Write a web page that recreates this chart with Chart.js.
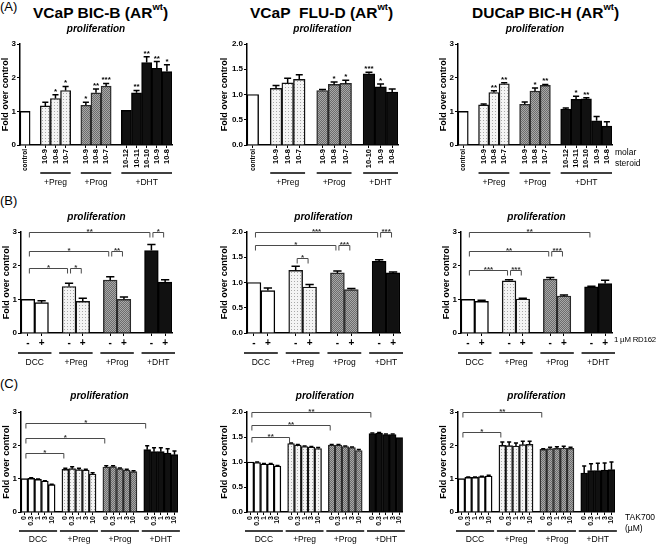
<!DOCTYPE html>
<html>
<head>
<meta charset="utf-8">
<script src="https://cdn.jsdelivr.net/npm/chart.js@4.4.1/dist/chart.umd.min.js"></script>
<style>
  body { margin: 0; background: #fff; font-family: "Liberation Sans", Arial, sans-serif; }
  #wrap { position: relative; width: 660px; height: 544px; overflow: hidden; }
  #wrap canvas { position: absolute; }
  .t { position: absolute; white-space: nowrap; color: #000; }
  .lab { font-size: 13px; line-height: 13px; }
  .ttl { font-size: 15.5px; font-weight: bold; line-height: 18px; }
  .ttl sup { font-size: 9.5px; position: relative; top: -2px; line-height: 0; }
  .pro { font-size: 10px; font-weight: bold; font-style: italic; line-height: 10px; width: 120px; text-align: center; }
  .side { font-size: 8.5px; line-height: 10.5px; }
  .side.narrow { font-size: 7.8px; letter-spacing: -0.2px; }
</style>
</head>
<body>
<div id="wrap">
  <div class="t lab" style="left:0;top:0">(A)</div>
  <div class="t lab" style="left:0;top:194px">(B)</div>
  <div class="t lab" style="left:0;top:377px">(C)</div>
  <div class="t ttl" style="left:33px;top:4px">VCaP BIC-B (AR<sup>wt</sup>)</div>
  <div class="t ttl" style="left:250px;top:4px">VCaP&nbsp; FLU-D (AR<sup>wt</sup>)</div>
  <div class="t ttl" style="left:472px;top:4px">DUCaP BIC-H (AR<sup>wt</sup>)</div>
</div>

<script>
// ---- data ----
const groupsA = ['', '+Preg', '+Prog', '+DHT'];
const groupsBC = ['DCC', '+Preg', '+Prog', '+DHT'];

const ticksA1 = [['control'], ['10-9', '10-8', '10-7'], ['10-9', '10-8', '10-7'], ['10-12', '10-11', '10-10', '10-9', '10-8']];
const ticksA2 = [['control'], ['10-9', '10-8', '10-7'], ['10-9', '10-8', '10-7'], ['10-10', '10-9', '10-8']];
const ticksB = [['-', '+'], ['-', '+'], ['-', '+'], ['-', '+']];
const dosesC = ['0', '0.3', '1', '3', '10'];
const ticksC = [dosesC, dosesC, dosesC, dosesC];

// (A) molar steroid dose response
const valuesA1 = [[1.00], [1.16, 1.38, 1.62], [1.18, 1.55, 1.75], [1.03, 1.55, 2.45, 2.28, 2.18]];
const errorsA1 = [[0], [0.11, 0.11, 0.12], [0.09, 0.11, 0.08], [0, 0.07, 0.17, 0.2, 0.2]];
const starsA1 = [[''], ['', '*', '*'], ['*', '**', '***'], ['', '**', '**', '**', '*']];

const valuesA2 = [[1.00], [1.12, 1.23, 1.30], [1.08, 1.20, 1.22], [1.41, 1.15, 1.05]];
const errorsA2 = [[0], [0.06, 0.09, 0.09], [0.02, 0.05, 0.06], [0.03, 0.06, 0.06]];
const starsA2 = [[''], ['', '', ''], ['', '*', '*'], ['***', '*', '']];

const valuesA3 = [[1.00], [1.19, 1.56, 1.82], [1.21, 1.60, 1.77], [1.07, 1.36, 1.37, 0.72, 0.56]];
const errorsA3 = [[0], [0.03, 0.05, 0.03], [0.07, 0.09, 0.03], [0.03, 0.09, 0.03, 0.13, 0.13]];
const starsA3 = [[''], ['', '**', '**'], ['', '*', '**'], ['', '*', '**', '', '']];

// (B) +/- 1 uM RD162
const valuesB1 = [[1.00, 0.90], [1.38, 0.94], [1.57, 1.00], [2.45, 1.51]];
const errorsB1 = [[0, 0.06], [0.1, 0.09], [0.1, 0.07], [0.18, 0.07]];
const bracketsB1 = [
  { from: [0, 0], to: [3, 0], y: 3.0, text: '**' },
  { from: [3, 0], to: [3, 1], y: 3.0, text: '*' },
  { from: [0, 0], to: [2, 0], y: 2.45, text: '*' },
  { from: [2, 0], to: [2, 1], y: 2.45, text: '**' },
  { from: [0, 0], to: [1, 0], y: 1.92, text: '*' },
  { from: [1, 0], to: [1, 1], y: 1.92, text: '*' }
];

const valuesB2 = [[1.00, 0.84], [1.24, 0.91], [1.19, 0.86], [1.42, 1.19]];
const errorsB2 = [[0, 0.05], [0.08, 0.05], [0.04, 0.02], [0.03, 0.02]];
const bracketsB2 = [
  { from: [0, 0], to: [3, 0], y: 2.0, text: '***' },
  { from: [3, 0], to: [3, 1], y: 2.0, text: '***' },
  { from: [0, 0], to: [2, 0], y: 1.75, text: '*' },
  { from: [2, 0], to: [2, 1], y: 1.75, text: '***' },
  { from: [1, 0], to: [1, 1], y: 1.49, text: '*' }
];

const valuesB3 = [[1.00, 0.94], [1.55, 1.01], [1.60, 1.10], [1.37, 1.47]];
const errorsB3 = [[0, 0.03], [0.03, 0.02], [0.05, 0.03], [0.02, 0.1]];
const bracketsB3 = [
  { from: [0, 0], to: [3, 0], y: 3.0, text: '**' },
  { from: [0, 0], to: [2, 0], y: 2.43, text: '**' },
  { from: [2, 0], to: [2, 1], y: 2.43, text: '***' },
  { from: [0, 0], to: [1, 0], y: 1.87, text: '***' },
  { from: [1, 0], to: [1, 1], y: 1.87, text: '***' }
];

// (C) TAK700 (uM)
const valuesC1 = [[1.00, 1.01, 0.98, 0.93, 0.82], [1.28, 1.30, 1.27, 1.26, 1.14], [1.35, 1.36, 1.30, 1.26, 1.21], [1.87, 1.81, 1.81, 1.77, 1.72]];
const errorsC1 = [[0, 0.02, 0.01, 0.01, 0.01], [0.03, 0.06, 0.04, 0.02, 0.04], [0.04, 0.03, 0.02, 0.02, 0.03], [0.12, 0.12, 0.12, 0.13, 0.11]];
const bracketsC1 = [
  { from: [0, 0], to: [3, 0], y: 2.67, text: '*' },
  { from: [0, 0], to: [2, 0], y: 2.22, text: '*' },
  { from: [0, 0], to: [1, 0], y: 1.78, text: '*' }
];

const valuesC2 = [[1.00, 0.99, 0.96, 0.96, 0.92], [1.37, 1.34, 1.31, 1.30, 1.27], [1.34, 1.34, 1.31, 1.29, 1.23], [1.57, 1.58, 1.55, 1.55, 1.49]];
const errorsC2 = [[0, 0.01, 0.01, 0.01, 0.01], [0.01, 0.01, 0.01, 0.01, 0.02], [0.01, 0.01, 0.01, 0.01, 0.02], [0.01, 0.01, 0.01, 0.01, 0]];
const bracketsC2 = [
  { from: [0, 0], to: [3, 0], y: 2.0, text: '**' },
  { from: [0, 0], to: [2, 0], y: 1.74, text: '**' },
  { from: [0, 0], to: [1, 0], y: 1.5, text: '**' }
];

const valuesC3 = [[1.00, 1.04, 1.04, 1.06, 1.08], [2.00, 1.99, 1.98, 2.02, 2.03], [1.88, 1.90, 1.91, 1.92, 1.91], [1.17, 1.24, 1.24, 1.26, 1.27]];
const errorsC3 = [[0, 0.01, 0.01, 0.01, 0.02], [0.1, 0.11, 0.09, 0.1, 0.09], [0.02, 0.04, 0.05, 0.05, 0.03], [0.21, 0.21, 0.22, 0.21, 0.23]];
const bracketsC3 = [
  { from: [0, 0], to: [2, 0], y: 3.0, text: '**' },
  { from: [0, 0], to: [1, 0], y: 2.4, text: '*' }
];

// ---- drawing ----
Chart.defaults.font.family = '"Liberation Sans", Arial, sans-serif';
Chart.defaults.color = '#000';

const wrap = document.getElementById('wrap');

function makePattern(bg, fg, size, dots) {
  const c = document.createElement('canvas');
  c.width = size; c.height = size;
  const g = c.getContext('2d');
  g.fillStyle = bg; g.fillRect(0, 0, size, size);
  g.fillStyle = fg;
  dots.forEach(d => g.fillRect(d[0], d[1], 1, 1));
  return g.createPattern(c, 'repeat');
}
const pregFill = makePattern('#f4f4f4', '#a9a9a9', 3, [[0, 0]]);
const progFill = makePattern('#a8a8a8', '#6c6c6c', 2, [[0, 0], [1, 1]]);
const fills = ['#ffffff', pregFill, progFill, '#111111'];
const edges = ['#000', '#111', '#2a2a2a', '#000'];

function addText(cls, html, left, top) {
  const d = document.createElement('div');
  d.className = 't ' + cls;
  d.innerHTML = html;
  d.style.left = left + 'px';
  d.style.top = top + 'px';
  wrap.appendChild(d);
}

function panel(box, cfg) {
  const yW = box.yW, padTop = 14, padRight = 6;
  const labels = [], data = [], errs = [], stars = [], grp = [], idx = [];
  cfg.ticks.forEach((g, gi) => {
    if (gi > 0) { labels.push(''); data.push(null); errs.push(0); stars.push(''); grp.push(-1); }
    idx.push([]);
    g.forEach((t, i) => {
      idx[gi].push(labels.length);
      labels.push(t);
      data.push(cfg.values[gi][i]);
      errs.push(cfg.errors[gi][i]);
      stars.push(cfg.stars ? cfg.stars[gi][i] : '');
      grp.push(gi);
    });
  });

  const canvas = document.createElement('canvas');
  canvas.width = (box.r - box.l) + yW + padRight;
  canvas.height = padTop + (box.b - box.t) + box.xH;
  canvas.style.left = (box.l - yW) + 'px';
  canvas.style.top = (box.t - padTop) + 'px';
  wrap.appendChild(canvas);

  // "proliferation" centred over the plot
  addText('pro', 'proliferation', (box.l + box.r) / 2 - 60, box.t - box.proGap);

  const extras = {
    id: 'extras',
    afterDraw(chart) {
      const ctx = chart.ctx;
      const ys = chart.scales.y;
      const bars = chart.getDatasetMeta(0).data;
      const area = chart.chartArea;
      ctx.save();
      // error bars + stars
      bars.forEach((bar, i) => {
        if (data[i] === null) return;
        const top = ys.getPixelForValue(data[i] + errs[i]);
        if (errs[i] > 0) {
          ctx.strokeStyle = '#000';
          ctx.lineWidth = 1.5;
          ctx.beginPath();
          ctx.moveTo(bar.x, bar.y);
          ctx.lineTo(bar.x, top);
          ctx.moveTo(bar.x - bar.width * 0.3, top);
          ctx.lineTo(bar.x + bar.width * 0.3, top);
          ctx.stroke();
        }
        if (stars[i]) {
          ctx.fillStyle = '#000';
          ctx.font = 'bold 8px "Liberation Sans", Arial';
          ctx.textAlign = 'center';
          ctx.textBaseline = 'alphabetic';
          ctx.fillText(stars[i], bar.x, top - 1);
        }
      });
      // significance brackets
      (cfg.brackets || []).forEach(b => {
        const x1 = bars[idx[b.from[0]][b.from[1]]].x + 1.5;
        const x2 = bars[idx[b.to[0]][b.to[1]]].x - 1.5;
        const y = Math.round(ys.getPixelForValue(b.y)) + 0.5;
        ctx.strokeStyle = '#4a4a4a';
        ctx.lineWidth = 1;
        ctx.beginPath();
        ctx.moveTo(x1, y + 5);
        ctx.lineTo(x1, y);
        ctx.lineTo(x2, y);
        ctx.lineTo(x2, y + 5);
        ctx.stroke();
        ctx.fillStyle = '#333';
        ctx.font = 'bold 8px "Liberation Sans", Arial';
        ctx.textAlign = 'center';
        ctx.textBaseline = 'alphabetic';
        ctx.fillText(b.text, (x1 + x2) / 2, y + 1);
      });
      // group underlines and names
      cfg.groups.forEach((name, gi) => {
        if (!name) return;
        const first = bars[idx[gi][0]], last = bars[idx[gi][idx[gi].length - 1]];
        const xa = first.x - first.width / 2 - box.lineExt;
        const xb = last.x + last.width / 2 + box.lineExt;
        const ly = area.bottom + box.lineOff;
        ctx.strokeStyle = '#000';
        ctx.lineWidth = 1.5;
        ctx.beginPath();
        ctx.moveTo(xa, ly);
        ctx.lineTo(xb, ly);
        ctx.stroke();
        ctx.fillStyle = '#000';
        ctx.font = '8.5px "Liberation Sans", Arial';
        ctx.textAlign = 'center';
        ctx.textBaseline = 'middle';
        ctx.fillText(name, (xa + xb) / 2, area.bottom + box.labelOff);
      });
      ctx.restore();
    }
  };

  new Chart(canvas, {
    type: 'bar',
    data: {
      labels: labels,
      datasets: [{
        data: data,
        backgroundColor: grp.map(g => g < 0 ? 'rgba(0,0,0,0)' : fills[g]),
        borderColor: grp.map(g => g < 0 ? 'rgba(0,0,0,0)' : edges[g]),
        borderWidth: 1.4,
        barPercentage: 1,
        categoryPercentage: 1
      }]
    },
    options: {
      responsive: false,
      animation: false,
      events: [],
      layout: { padding: { top: padTop, right: padRight, left: 0, bottom: 0 } },
      plugins: { legend: { display: false }, tooltip: { enabled: false } },
      scales: {
        x: {
          offset: true,
          border: { display: true, color: '#000', width: 1.5 },
          grid: {
            drawOnChartArea: false, drawTicks: true, tickLength: 3, offset: false, lineWidth: 1,
            color: c => labels[c.index] ? '#000' : 'rgba(0,0,0,0)'
          },
          ticks: {
            autoSkip: false, maxRotation: box.rot, minRotation: box.rot, padding: 1, color: '#000',
            font: c => ({ size: (c.tick && c.tick.label === 'control') ? 6.5 : box.xFont, weight: 'bold' })
          },
          afterFit: s => { s.height = box.xH; }
        },
        y: {
          min: 0, max: cfg.yMax,
          border: { display: true, color: '#000', width: 1.5 },
          grid: { drawOnChartArea: false, drawTicks: true, tickLength: 3, color: '#000' },
          ticks: {
            stepSize: cfg.yStep, padding: 1, color: '#000',
            font: { size: 8, weight: 'bold' },
            callback: v => v.toFixed(cfg.yDec)
          },
          title: { display: true, text: 'Fold over control', color: '#000', font: { size: 9, weight: 'bold' }, padding: 0 },
          afterFit: s => { s.width = yW; }
        }
      }
    },
    plugins: [extras]
  });
}

const rowA = { t: 44, b: 145, xH: 46, rot: 90, xFont: 7.5, lineOff: 28, labelOff: 38, lineExt: 0, proGap: 20 };
const rowB = { t: 232, b: 333, xH: 36, rot: 0, xFont: 10, lineOff: 20, labelOff: 30, lineExt: 3, proGap: 20 };
const rowC = { t: 412, b: 512, xH: 32, rot: 90, xFont: 7, lineOff: 19, labelOff: 28, lineExt: 2, proGap: 21 };

panel(Object.assign({}, rowA, { l: 20, r: 172, yW: 20 }),
  { ticks: ticksA1, values: valuesA1, errors: errorsA1, stars: starsA1, groups: groupsA, yMax: 3, yStep: 1, yDec: 0 });
panel(Object.assign({}, rowA, { l: 247, r: 398, yW: 28 }),
  { ticks: ticksA2, values: valuesA2, errors: errorsA2, stars: starsA2, groups: groupsA, yMax: 2, yStep: 0.5, yDec: 1 });
panel(Object.assign({}, rowA, { l: 458, r: 612, yW: 20 }),
  { ticks: ticksA1, values: valuesA3, errors: errorsA3, stars: starsA3, groups: groupsA, yMax: 3, yStep: 1, yDec: 0 });

panel(Object.assign({}, rowB, { l: 21, r: 172, yW: 20 }),
  { ticks: ticksB, values: valuesB1, errors: errorsB1, brackets: bracketsB1, groups: groupsBC, yMax: 3, yStep: 1, yDec: 0 });
panel(Object.assign({}, rowB, { l: 247, r: 400, yW: 28 }),
  { ticks: ticksB, values: valuesB2, errors: errorsB2, brackets: bracketsB2, groups: groupsBC, yMax: 2, yStep: 0.5, yDec: 1 });
panel(Object.assign({}, rowB, { l: 461, r: 612, yW: 20 }),
  { ticks: ticksB, values: valuesB3, errors: errorsB3, brackets: bracketsB3, groups: groupsBC, yMax: 3, yStep: 1, yDec: 0 });

panel(Object.assign({}, rowC, { l: 21, r: 178, yW: 20 }),
  { ticks: ticksC, values: valuesC1, errors: errorsC1, brackets: bracketsC1, groups: groupsBC, yMax: 3, yStep: 1, yDec: 0 });
panel(Object.assign({}, rowC, { l: 247, r: 403, yW: 28 }),
  { ticks: ticksC, values: valuesC2, errors: errorsC2, brackets: bracketsC2, groups: groupsBC, yMax: 2, yStep: 0.5, yDec: 1 });
panel(Object.assign({}, rowC, { l: 458, r: 615, yW: 20 }),
  { ticks: ticksC, values: valuesC3, errors: errorsC3, brackets: bracketsC3, groups: groupsBC, yMax: 3, yStep: 1, yDec: 0 });

// right-hand axis notes
addText('side', 'molar<br>steroid', 615, 147);
addText('side narrow', '1 \u00b5M RD162', 614, 335);
addText('side', 'TAK700<br>(\u00b5M)', 625, 512);
</script>
</body>
</html>
